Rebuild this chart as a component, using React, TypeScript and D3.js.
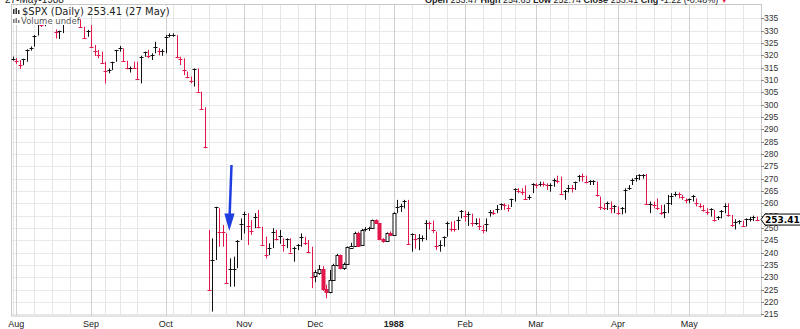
import React from "react";
import * as d3 from "d3";

const W = 800;
const H = 329;

const dates: string[] = [
  "1987-07-31",
  "1987-08-03","1987-08-04","1987-08-05","1987-08-06","1987-08-07","1987-08-10","1987-08-11","1987-08-12","1987-08-13","1987-08-14","1987-08-17","1987-08-18","1987-08-19","1987-08-20","1987-08-21","1987-08-24","1987-08-25","1987-08-26","1987-08-27","1987-08-28","1987-08-31",
  "1987-09-01","1987-09-02","1987-09-03","1987-09-04","1987-09-08","1987-09-09","1987-09-10","1987-09-11","1987-09-14","1987-09-15","1987-09-16","1987-09-17","1987-09-18","1987-09-21","1987-09-22","1987-09-23","1987-09-24","1987-09-25","1987-09-28","1987-09-29","1987-09-30",
  "1987-10-01","1987-10-02","1987-10-05","1987-10-06","1987-10-07","1987-10-08","1987-10-09","1987-10-12","1987-10-13","1987-10-14","1987-10-15","1987-10-16","1987-10-19","1987-10-20","1987-10-21","1987-10-22","1987-10-23","1987-10-26","1987-10-27","1987-10-28","1987-10-29","1987-10-30",
  "1987-11-02","1987-11-03","1987-11-04","1987-11-05","1987-11-06","1987-11-09","1987-11-10","1987-11-11","1987-11-12","1987-11-13","1987-11-16","1987-11-17","1987-11-18","1987-11-19","1987-11-20","1987-11-23","1987-11-24","1987-11-25","1987-11-27","1987-11-30",
  "1987-12-01","1987-12-02","1987-12-03","1987-12-04","1987-12-07","1987-12-08","1987-12-09","1987-12-10","1987-12-11","1987-12-14","1987-12-15","1987-12-16","1987-12-17","1987-12-18","1987-12-21","1987-12-22","1987-12-23","1987-12-24","1987-12-28","1987-12-29","1987-12-30","1987-12-31",
  "1988-01-04","1988-01-05","1988-01-06","1988-01-07","1988-01-08","1988-01-11","1988-01-12","1988-01-13","1988-01-14","1988-01-15","1988-01-18","1988-01-19","1988-01-20","1988-01-21","1988-01-22","1988-01-25","1988-01-26","1988-01-27","1988-01-28","1988-01-29",
  "1988-02-01","1988-02-02","1988-02-03","1988-02-04","1988-02-05","1988-02-08","1988-02-09","1988-02-10","1988-02-11","1988-02-12","1988-02-16","1988-02-17","1988-02-18","1988-02-19","1988-02-22","1988-02-23","1988-02-24","1988-02-25","1988-02-26","1988-02-29",
  "1988-03-01","1988-03-02","1988-03-03","1988-03-04","1988-03-07","1988-03-08","1988-03-09","1988-03-10","1988-03-11","1988-03-14","1988-03-15","1988-03-16","1988-03-17","1988-03-18","1988-03-21","1988-03-22","1988-03-23","1988-03-24","1988-03-25","1988-03-28","1988-03-29","1988-03-30","1988-03-31",
  "1988-04-04","1988-04-05","1988-04-06","1988-04-07","1988-04-08","1988-04-11","1988-04-12","1988-04-13","1988-04-14","1988-04-15","1988-04-18","1988-04-19","1988-04-20","1988-04-21","1988-04-22","1988-04-25","1988-04-26","1988-04-27","1988-04-28","1988-04-29",
  "1988-05-02","1988-05-03","1988-05-04","1988-05-05","1988-05-06","1988-05-09","1988-05-10","1988-05-11","1988-05-12","1988-05-13","1988-05-16","1988-05-17","1988-05-18","1988-05-19","1988-05-20","1988-05-23","1988-05-24","1988-05-25","1988-05-26","1988-05-27",
];

const closes: number[] = [
  318.66,
  317.57, 316.23, 318.45, 322.1, 323.0, 328.0, 333.33, 332.39, 334.65, 333.99, 334.11, 329.25, 329.83, 334.84, 335.9, 333.33, 336.77, 334.57, 331.38, 327.04, 329.8,
  323.4, 321.68, 320.21, 316.7, 313.56, 313.92, 317.13, 321.98, 323.08, 317.74, 314.86, 314.93, 314.86, 310.54, 319.5, 321.19, 319.72, 320.16, 323.2, 321.69, 321.83,
  327.33, 328.07, 328.08, 319.22, 318.54, 314.16, 311.07, 309.39, 314.52, 305.23, 298.08, 282.7, 224.84, 236.83, 258.38, 248.25, 248.22, 227.67, 233.19, 233.28, 244.77, 251.79,
  255.75, 250.82, 248.96, 254.48, 250.41, 243.17, 239.0, 241.9, 248.52, 245.64, 246.76, 243.04, 245.55, 240.05, 242.0, 242.99, 246.39, 244.1, 240.34, 230.3,
  232.0, 233.45, 225.21, 223.92, 228.76, 234.91, 238.89, 233.57, 235.32, 242.19, 242.81, 248.08, 242.98, 249.16, 249.54, 249.95, 253.16, 252.03, 245.57, 244.59, 247.86, 247.08,
  255.94, 258.63, 258.89, 261.07, 243.4, 247.49, 245.42, 245.81, 245.88, 252.05, 251.88, 249.32, 242.63, 243.14, 246.5, 252.17, 249.57, 249.38, 253.29, 257.07,
  255.04, 255.57, 252.21, 252.21, 250.96, 249.1, 251.72, 256.66, 255.95, 257.63, 259.83, 259.21, 257.91, 261.61, 265.64, 265.02, 264.43, 261.58, 262.46, 267.82,
  267.22, 267.98, 267.88, 267.3, 267.38, 269.43, 269.06, 263.84, 264.94, 266.37, 266.13, 268.65, 271.22, 271.12, 268.74, 268.84, 269.06, 263.35, 258.51, 258.06, 260.07, 258.07, 258.89,
  256.09, 257.92, 265.49, 266.16, 269.43, 270.16, 271.37, 271.57, 259.75, 259.77, 259.21, 257.92, 256.13, 256.42, 260.14, 263.02, 263.93, 263.8, 262.61, 261.33,
  261.56, 263.0, 260.32, 258.79, 257.48, 256.54, 257.62, 253.31, 254.54, 256.78, 258.71, 255.39, 251.35, 252.57, 253.02, 250.83, 253.51, 253.76, 254.63, 253.41,
];

const highs: number[] = [
  319.5,
  318.9, 318.1, 318.6, 322.4, 323.6, 328.2, 334.2, 334.5, 335.5, 335.0, 335.4, 330.5, 330.0, 335.2, 336.4, 335.9, 337.9, 336.8, 334.6, 331.6, 330.3,
  332.2, 324.2, 322.2, 321.5, 317.4, 314.7, 317.4, 322.2, 323.8, 322.8, 317.8, 315.5, 317.4, 317.4, 319.8, 321.5, 322.2, 320.8, 325.5, 322.9, 322.5,
  328.2, 328.9, 328.9, 328.2, 319.4, 318.8, 313.4, 311.4, 314.7, 314.7, 305.2, 298.9, 249.2, 245.8, 258.6, 258.0, 251.2, 247.8, 237.7, 238.4, 245.1, 253.9,
  256.6, 256.0, 253.2, 256.0, 257.3, 250.5, 246.5, 243.8, 249.9, 249.2, 249.2, 245.8, 245.8, 245.8, 242.4, 243.5, 247.8, 246.4, 245.1, 242.4,
  233.0, 235.0, 234.5, 227.0, 233.0, 235.5, 239.5, 239.2, 236.0, 242.5, 244.0, 248.5, 248.5, 249.6, 250.3, 250.5, 253.4, 253.5, 252.1, 245.9, 248.2, 248.6,
  256.4, 261.4, 259.8, 261.4, 261.4, 247.8, 247.5, 247.5, 247.0, 253.2, 252.6, 253.0, 248.5, 245.0, 246.6, 252.6, 252.6, 252.9, 254.6, 257.3,
  257.0, 256.6, 255.8, 253.9, 253.9, 251.2, 253.9, 257.3, 257.3, 259.3, 260.0, 260.0, 259.5, 261.9, 266.1, 266.1, 266.1, 267.3, 263.4, 268.1,
  268.1, 268.8, 268.8, 268.1, 268.1, 270.1, 271.2, 270.8, 265.4, 267.4, 267.4, 268.8, 271.5, 272.0, 271.2, 269.4, 269.4, 268.8, 262.7, 260.0, 260.7, 260.7, 259.3,
  258.7, 258.5, 266.1, 267.4, 270.1, 271.4, 271.8, 271.8, 271.9, 260.7, 260.7, 262.0, 259.3, 259.5, 263.4, 264.1, 264.7, 264.4, 263.4, 262.0,
  262.0, 263.4, 262.0, 260.0, 259.3, 258.0, 258.0, 257.3, 254.8, 257.3, 260.0, 260.0, 255.3, 253.5, 253.2, 253.0, 253.9, 254.5, 255.0, 254.65,
];

const lows: number[] = [
  317.8,
  316.5, 314.5, 316.0, 317.4, 321.9, 323.5, 328.0, 331.5, 331.8, 332.5, 332.4, 326.8, 326.6, 329.0, 333.5, 332.3, 333.3, 334.0, 331.1, 327.0, 327.5,
  323.2, 319.7, 318.8, 316.6, 308.6, 312.7, 314.0, 317.4, 321.5, 317.4, 314.3, 313.0, 314.5, 310.0, 308.6, 319.4, 318.8, 318.1, 320.8, 320.0, 319.8,
  320.8, 327.3, 327.5, 318.8, 316.0, 312.0, 310.7, 308.6, 307.3, 305.2, 297.8, 282.3, 224.8, 216.1, 237.0, 242.4, 242.4, 227.6, 226.2, 226.2, 233.7, 245.1,
  247.8, 243.1, 247.2, 249.9, 249.9, 243.1, 237.7, 239.0, 241.8, 244.9, 243.6, 240.4, 241.8, 240.0, 236.3, 241.0, 242.4, 243.1, 239.7, 225.6,
  228.0, 231.0, 224.5, 221.5, 223.5, 228.5, 234.5, 233.2, 233.0, 235.0, 241.5, 242.5, 242.5, 242.8, 248.6, 248.8, 249.8, 251.8, 245.0, 244.0, 244.5, 246.8,
  247.0, 256.0, 256.5, 257.9, 243.1, 240.4, 241.6, 241.0, 244.5, 245.1, 249.4, 248.0, 241.1, 240.4, 242.4, 246.5, 248.5, 248.5, 249.2, 253.9,
  252.6, 250.8, 250.6, 251.2, 249.2, 247.8, 248.5, 254.6, 255.3, 256.0, 257.3, 257.3, 256.6, 258.5, 260.7, 264.1, 263.4, 261.4, 261.4, 264.1,
  266.1, 266.8, 266.8, 265.4, 264.7, 266.7, 268.1, 263.6, 261.4, 264.4, 264.4, 265.4, 268.8, 268.8, 268.1, 267.4, 267.4, 262.7, 257.3, 257.3, 257.3, 256.0, 256.0,
  255.3, 255.5, 256.0, 265.4, 267.4, 268.8, 269.4, 270.0, 259.3, 256.0, 258.0, 257.3, 255.3, 254.0, 256.0, 259.3, 262.7, 262.0, 261.4, 260.0,
  260.0, 260.7, 258.7, 258.0, 256.6, 255.3, 254.6, 252.6, 253.2, 253.9, 256.0, 254.6, 250.5, 249.4, 251.5, 250.5, 250.6, 252.6, 252.8, 252.74,
];

// Days whose open differs from the close (all other bars are drawn as open = close)
const openOverrides: [string, number][] = [
  ["1987-12-01", 230.3], ["1987-12-02", 232.0], ["1987-12-03", 233.45], ["1987-12-04", 225.21],
  ["1987-12-07", 223.92], ["1987-12-08", 228.76], ["1987-12-09", 234.91], ["1987-12-10", 238.89],
  ["1987-12-11", 233.57], ["1987-12-14", 235.32], ["1987-12-15", 242.19], ["1987-12-16", 242.81],
  ["1987-12-17", 248.08], ["1987-12-18", 242.98], ["1987-12-21", 249.16], ["1987-12-22", 249.54],
  ["1987-12-23", 249.95], ["1987-12-24", 253.16], ["1987-12-28", 252.03], ["1987-12-29", 245.57],
  ["1987-12-30", 244.59], ["1987-12-31", 247.86], ["1988-01-04", 247.08], ["1988-05-27", 253.47],
];

const priceTicks: number[] = [215, 220, 225, 230, 235, 240, 245, 250, 255, 260, 265, 270, 275, 280, 285, 290, 295, 300, 305, 310, 315, 320, 325, 330, 335];
const monthStarts: string[] = ["1987-08-03", "1987-09-01", "1987-10-01", "1987-11-02", "1987-12-01", "1988-01-04", "1988-02-01", "1988-03-01", "1988-04-04", "1988-05-02"];
const monthLabels: string[] = ["Aug", "Sep", "Oct", "Nov", "Dec", "1988", "Feb", "Mar", "Apr", "May"];

const lastClose = 253.41;
const RED = "#e2184c";
const BLACK = "#111";

export default function App() {
  const x = d3.scaleBand<string>().domain(dates).range([11, 758.6]).padding(0);
  const y = d3.scaleLinear().domain([215, 335]).range([314.3, 18.3]);
  const cx = (d: string) => (x(d) as number) + x.bandwidth() / 2;
  const snap = (v: number) => Math.round(v) + 0.5;

  const openMap = new Map(openOverrides);
  const parse = d3.timeParse("%Y-%m-%d");
  const weekKey = (d: string) => d3.timeFormat("%Y-%U")(parse(d) as Date);

  // weekly grid: first trading day of each week, skipping weeks that hold a month start
  const monthSet = new Set(monthStarts);
  const weekStarts: string[] = [];
  let prevWeek = "";
  dates.forEach((d) => {
    const wk = weekKey(d);
    if (wk !== prevWeek) {
      weekStarts.push(d);
      prevWeek = wk;
    }
  });
  const monthWeeks = new Set(monthStarts.map(weekKey));
  const weeklyLines = weekStarts.filter((d) => !monthWeeks.has(weekKey(d)) && !monthSet.has(d));

  const plotL = 11, plotR = 761, plotT = 4, plotB = 315.5;

  const candles = dates.map((d, i) => {
    const c = closes[i];
    const o = openMap.has(d) ? (openMap.get(d) as number) : c;
    const prev = i > 0 ? closes[i - 1] : c;
    const color = c < prev ? RED : BLACK;
    const px = snap(cx(d));
    const yh = y(highs[i]);
    const yl = y(lows[i]);
    const yo = y(o);
    const yc = y(c);
    const top = Math.min(yo, yc);
    const bot = Math.max(yo, yc);
    const hollow = c > o;
    return (
      <g key={d}>
        <line x1={px} x2={px} y1={yh} y2={yl} stroke={color} strokeWidth={1} />
        {Math.abs(bot - top) < 1.2 ? (
          <line x1={px - 2} x2={px + 2} y1={snap(yc)} y2={snap(yc)} stroke={color} strokeWidth={1} />
        ) : (
          <rect
            x={px - 1.5}
            y={snap(top)}
            width={3}
            height={Math.round(bot - top)}
            fill={hollow ? "#fff" : color}
            stroke={color}
            strokeWidth={1}
          />
        )}
      </g>
    );
  });

  const yTag = y(lastClose);

  return (
    <svg width={W} height={H} style={{ position: "absolute", left: 0, top: 0, display: "block" }} fontFamily="Arial, 'Liberation Sans', sans-serif">
      <rect x={0} y={0} width={W} height={H} fill="#fff" />
      {/* plot frame */}
      <rect x={plotL + 0.5} y={plotT + 0.5} width={plotR - plotL} height={plotB - plotT} fill="#fff" stroke="#c8c8c8" />
      {/* horizontal grid */}
      {priceTicks.map((p) => (
        <line key={"h" + p} x1={plotL + 1} x2={plotR} y1={snap(y(p))} y2={snap(y(p))} stroke="#e9e9e9" />
      ))}
      {/* weekly grid */}
      {weeklyLines.map((d) => (
        <line key={"w" + d} x1={snap(cx(d))} x2={snap(cx(d))} y1={plotT + 1} y2={plotB} stroke="#e6e6e6" />
      ))}
      {/* month grid */}
      {monthStarts.map((d) => (
        <line key={"m" + d} x1={snap(cx(d))} x2={snap(cx(d))} y1={plotT + 1} y2={plotB} stroke="#cfcfcf" />
      ))}
      {/* candles */}
      {candles}

      {/* legend */}
      <rect x={12} y={6} width={160} height={10} fill="#fff" />
      <rect x={12} y={16} width={66} height={9} fill="#fff" />
      <g fill="#333">
        <rect x={13} y={9} width={1.5} height={5} />
        <rect x={15.5} y={8} width={1.5} height={6} />
        <rect x={18} y={10} width={1.5} height={4} />
      </g>
      <text x={22} y={15} fontSize={10} fontFamily="'DejaVu Sans', Verdana, sans-serif" fill="#222">$SPX (Daily) 253.41 (27 May)</text>
      <g fill="#777">
        <rect x={13} y={19} width={1.5} height={4} />
        <rect x={15.5} y={18} width={1.5} height={5} />
        <rect x={18} y={20} width={1.5} height={3} />
      </g>
      <text x={21} y={23.5} fontSize={8.5} fontFamily="'DejaVu Sans', Verdana, sans-serif" fill="#555">Volume undef</text>

      {/* header (cut off at top) */}
      <text x={5} y={3} fontSize={10} fill="#222">27-May-1988</text>
      <text x={425} y={3} fontSize={9} fill="#222">
        <tspan fontWeight="bold">Open</tspan> 253.47 <tspan fontWeight="bold">High</tspan> 254.65 <tspan fontWeight="bold">Low</tspan> 252.74 <tspan fontWeight="bold">Close</tspan> 253.41 <tspan fontWeight="bold">Chg</tspan> -1.22 (-0.48%) <tspan fill={RED} fontSize={7}>▼</tspan>
      </text>

      {/* right axis */}
      {priceTicks.map((p) => (
        <g key={"t" + p}>
          <line x1={plotR} x2={plotR + 3} y1={snap(y(p))} y2={snap(y(p))} stroke="#888" />
          <text x={plotR + 3} y={y(p) + 3} fontSize={8.5} fill="#333">{p}</text>
        </g>
      ))}

      {/* last price tag */}
      <path
        d={`M${plotR},${yTag} L${plotR + 4},${yTag - 5.5} L${W + 5},${yTag - 5.5} L${W + 5},${yTag + 5.5} L${plotR + 4},${yTag + 5.5} Z`}
        fill="#fff"
        stroke="#000"
        strokeWidth={1}
      />
      <text x={plotR + 4} y={yTag + 3.3} fontSize={9} fontWeight="bold" fontFamily="'DejaVu Sans', Verdana, sans-serif" fill="#000">253.41</text>

      {/* month labels */}
      {monthStarts.map((d, i) => (
        <text
          key={"ml" + d}
          x={cx(d)}
          y={327}
          textAnchor="middle"
          fontSize={9}
          fontWeight={monthLabels[i] === "1988" ? "bold" : "normal"}
          fill="#222"
        >
          {monthLabels[i]}
        </text>
      ))}

      {/* blue annotation arrow */}
      <line x1={231.5} y1={165} x2={229.6} y2={216} stroke="#1e3ee0" strokeWidth={2.5} />
      <path d="M224.3,213.5 L234.6,213.5 L229.3,231 Z" fill="#1e3ee0" />
    </svg>
  );
}
